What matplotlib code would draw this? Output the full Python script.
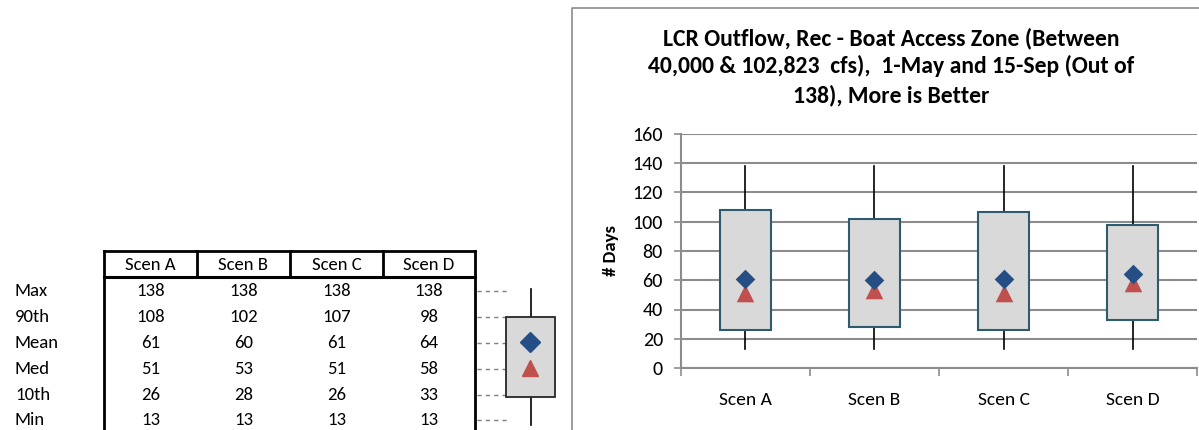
import matplotlib
matplotlib.use("Agg")
import matplotlib.pyplot as plt
from matplotlib.patches import Rectangle
import matplotlib.font_manager as fm

categories = ["Scen A", "Scen B", "Scen C", "Scen D"]
v_max = [138, 138, 138, 138]
v_p90 = [108, 102, 107, 98]
v_mean = [61, 60, 61, 64]
v_med = [51, 53, 51, 58]
v_p10 = [26, 28, 26, 33]
v_min = [13, 13, 13, 13]
row_labels = ["Max", "90th", "Mean", "Med", "10th", "Min"]
title_lines = ["LCR Outflow, Rec - Boat Access Zone (Between",
               "40,000 & 102,823  cfs),  1-May and 15-Sep (Out of",
               "138), More is Better"]
ylabel = "# Days"

avail = {f.name for f in fm.fontManager.ttflist}
fam = [f for f in ["Carlito", "Liberation Sans Narrow", "Liberation Sans", "DejaVu Sans"] if f in avail]
plt.rcParams["font.family"] = fam

W, H = 1199, 430
fig = plt.figure(figsize=(W / 100, H / 100), dpi=100)

# overlay in pixel coordinates
ov = fig.add_axes([0, 0, 1, 1], zorder=0)
ov.set_xlim(0, W)
ov.set_ylim(H, 0)
ov.axis("off")
ov.patch.set_alpha(0)

# chart frame
ov.plot([572, 572, W + 5], [H + 5, 8, 8], color="#8C8C8C", lw=1.2)

# table
col_edges = [104, 197, 290, 383, 475]
hdr_top, hdr_bot = 251, 277
row_y = [291, 317, 343, 369, 395, 420]
fs_tab = 13.5
ov.plot([col_edges[0], col_edges[-1]], [hdr_top, hdr_top], color="black", lw=2)
ov.plot([col_edges[0], col_edges[-1]], [hdr_bot, hdr_bot], color="black", lw=2.2)
for k, xe in enumerate(col_edges):
    if k in (0, len(col_edges) - 1):
        ov.plot([xe, xe], [hdr_top, H + 5], color="black", lw=2)
    else:
        ov.plot([xe, xe], [hdr_top, hdr_bot], color="black", lw=2)
for i, c in enumerate(categories):
    cx = (col_edges[i] + col_edges[i + 1]) / 2
    ov.text(cx, (hdr_top + hdr_bot) / 2 + 1, c, ha="center", va="center", fontsize=fs_tab)
rows = [v_max, v_p90, v_mean, v_med, v_p10, v_min]
for r, (lab, vals) in enumerate(zip(row_labels, rows)):
    y = row_y[r]
    ov.text(15, y, lab, ha="left", va="center", fontsize=fs_tab)
    for i, v in enumerate(vals):
        cx = (col_edges[i] + col_edges[i + 1]) / 2
        ov.text(cx, y, str(v), ha="center", va="center", fontsize=fs_tab)
    ov.plot([477, 508], [y, y], color="#7F7F7F", lw=1, ls=(0, (3, 3)))

# legend schematic
ov.plot([531, 531], [289, 425], color="black", lw=1.2, zorder=1)
ov.add_patch(Rectangle((506, 317), 49, 80, facecolor="#D9D9D9", edgecolor="#262626", lw=1.3, zorder=2))
ov.plot([530], [342], marker="D", ms=10, color="#254E85", zorder=3)
ov.plot([530], [368], marker="^", ms=12, color="#C0504D", zorder=3)

# main chart
L, R, B, T = 681, 1197, 368, 134
ax = fig.add_axes([L / W, 1 - B / H, (R - L) / W, (B - T) / H], zorder=2)
ax.patch.set_alpha(0)
x = list(range(len(categories)))
bw = 0.4
for i in x:
    ax.plot([i, i], [v_min[i], v_p10[i]], color="black", lw=1.2, zorder=1)
    ax.plot([i, i], [v_p90[i], v_max[i]], color="black", lw=1.2, zorder=1)
    ax.add_patch(Rectangle((i - bw / 2, v_p10[i]), bw, v_p90[i] - v_p10[i],
                           facecolor="#D9D9D9", edgecolor="#2E5B6E", lw=1.5, zorder=2))
ax.scatter(x, v_med, marker="^", s=160, color="#C0504D", zorder=3, linewidths=0)
ax.scatter(x, v_mean, marker="D", s=100, color="#254E85", zorder=4, linewidths=0)

ax.set_xlim(-0.5, len(categories) - 0.5)
ax.set_ylim(0, 160)
ax.set_yticks(range(0, 161, 20))
ax.yaxis.grid(True, color="#8C8C8C", lw=1.5)
ax.set_axisbelow(True)
ax.set_xticks([i - 0.5 for i in range(len(categories) + 1)])
ax.set_xticklabels([])
ax.set_xticks(x, minor=True)
ax.set_xticklabels(categories, minor=True, fontsize=14)
ax.tick_params(axis="x", which="major", length=6, color="#8C8C8C", width=1.2)
ax.tick_params(axis="x", which="minor", length=0, pad=17)
ax.tick_params(axis="y", length=5, color="#8C8C8C", width=1.2, labelsize=14.5, pad=8)
for s in ["top", "right"]:
    ax.spines[s].set_visible(False)
for s in ["left", "bottom"]:
    ax.spines[s].set_color("#8C8C8C")
    ax.spines[s].set_linewidth(1.5)
ax.set_ylabel(ylabel, fontweight="bold", fontsize=13.5, labelpad=10)

for ty, line in zip([38, 66, 95], title_lines):
    fig.text(891 / W, 1 - ty / H, line, ha="center", va="center", fontsize=17, fontweight="bold")

fig.savefig("out.png", dpi=100)
